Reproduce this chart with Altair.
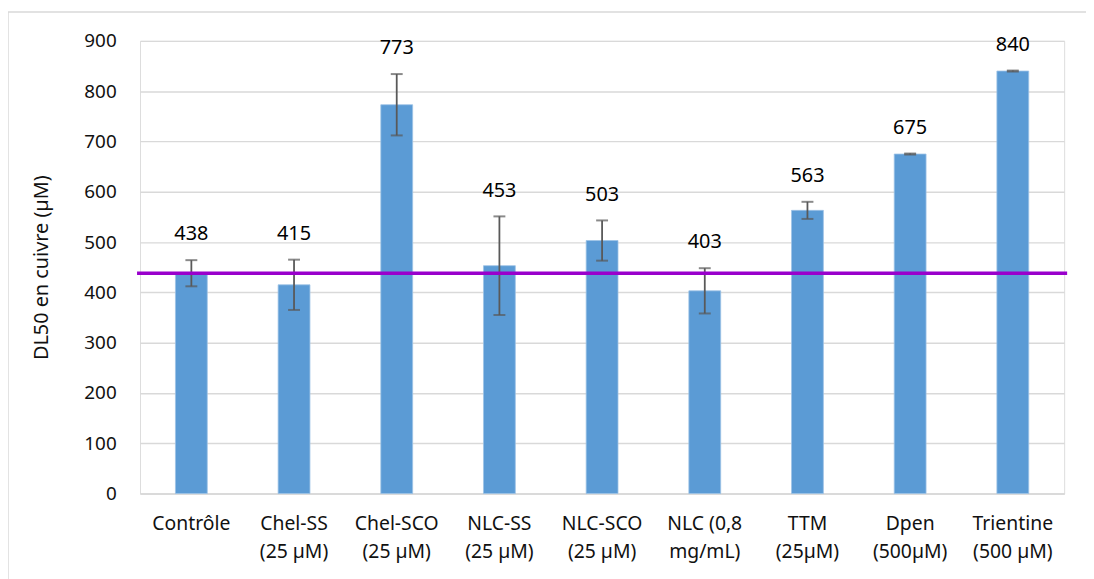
import altair as alt
import pandas as pd

categories = ["Contrôle", "Chel-SS|(25 µM)", "Chel-SCO|(25 µM)", "NLC-SS|(25 µM)",
              "NLC-SCO|(25 µM)", "NLC (0,8|mg/mL)", "TTM|(25µM)", "Dpen|(500µM)",
              "Trientine|(500 µM)"]
values = [438, 415, 773, 453, 503, 403, 563, 675, 840]
errors = [26, 50, 61, 98, 40, 45, 17, 1, 1]
reference = 438

df = pd.DataFrame({"cat": categories, "val": values, "err": errors})
df["lo"] = df["val"] - df["err"]
df["hi"] = df["val"] + df["err"]

W, H = 931, 456
FONT = "Noto Sans"

xenc = alt.X("cat:N", sort=categories, title=None,
             scale=alt.Scale(paddingInner=0.69, paddingOuter=0.345),
             axis=alt.Axis(labelExpr="split(datum.label, '|')", labelAngle=0,
                           labelFontSize=19.5, labelLineHeight=28, labelPadding=21,
                           labelColor="#111111", labelFont=FONT,
                           domainColor="#D9D9D9", domainWidth=1.5, ticks=False,
                           grid=False))

base = alt.Chart(df)

dummy = pd.DataFrame({"a": [0]})
border_left = alt.Chart(dummy).mark_rule(color="#D9D9D9", strokeWidth=1.5).encode(
    x=alt.value(-133), y=alt.value(-29), y2=alt.value(700))
border_top = alt.Chart(dummy).mark_rule(color="#D9D9D9", strokeWidth=1.5).encode(
    x=alt.value(-133), x2=alt.value(1000), y=alt.value(-29))

bars = base.mark_bar(color="#5B9BD5", stroke="#9DC3E6", strokeWidth=0.8).encode(
    x=xenc,
    y=alt.Y("val:Q", title="DL50 en cuivre (µM)",
            scale=alt.Scale(domain=[0, 900]),
            axis=alt.Axis(values=list(range(0, 1000, 100)), domain=False, ticks=False,
                          gridColor="#D9D9D9", gridWidth=1.5, labelFontSize=19,
                          labelPadding=24, labelColor="#111111", labelFont=FONT,
                          titleFont=FONT, titleFontSize=20, titleFontWeight="normal",
                          titleColor="#111111", titleX=-99, titleY=H / 2,
                          titleAngle=-90, titleAlign="center", titleBaseline="middle"))
)

rule_err = base.mark_rule(color="#595959", strokeWidth=1.8).encode(
    x=alt.X("cat:N", sort=categories), y="lo:Q", y2="hi:Q")
cap_hi = base.mark_tick(color="#595959", size=12, thickness=2).encode(
    x=alt.X("cat:N", sort=categories), y="hi:Q")
cap_lo = base.mark_tick(color="#595959", size=12, thickness=2).encode(
    x=alt.X("cat:N", sort=categories), y="lo:Q")

labels = base.mark_text(dy=-26, fontSize=20, font=FONT, color="#000000",
                        baseline="middle").encode(
    x=alt.X("cat:N", sort=categories), y="hi:Q", text="val:Q")

ref = alt.Chart(pd.DataFrame({"ref": [reference]})).mark_rule(
    color="#9900CC", strokeWidth=3.5
).encode(y="ref:Q", x=alt.value(-3), x2=alt.value(W + 3))

chart = alt.layer(border_left, border_top, bars, rule_err, cap_hi, cap_lo, ref,
                  labels).properties(
    width=W, height=H,
    autosize=alt.AutoSizeParams(type="none"),
    padding={"left": 133, "top": 31, "right": 22, "bottom": 84},
).configure_view(stroke=None).configure(font=FONT)

chart.save("out.html", embed_options={"renderer": "svg", "actions": False})
